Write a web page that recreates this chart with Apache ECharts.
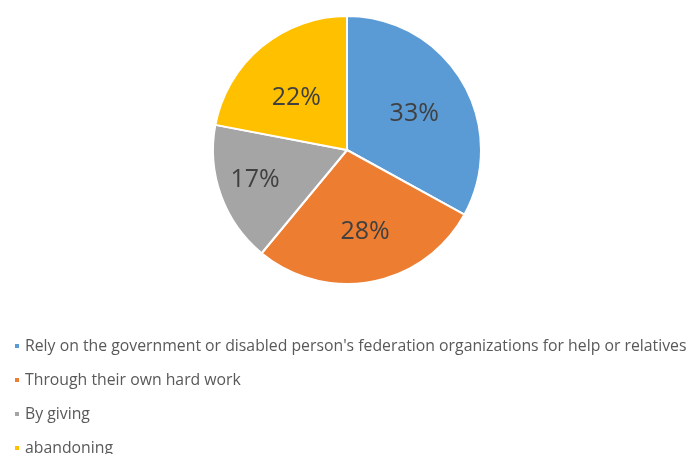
<!DOCTYPE html>
<html>
<head>
<meta charset="utf-8">
<script src="https://cdn.jsdelivr.net/npm/echarts@6/dist/echarts.min.js"></script>
<style>
  html, body { margin: 0; padding: 0; background: #fff; }
  #chart { width: 691px; height: 454px; }
</style>
</head>
<body>
<div id="chart"></div>
<script>
// Ways of getting by
const categories = [
  "Rely on the government or disabled person's federation organizations for help or relatives",
  "Through their own hard work",
  "By giving",
  "abandoning"
];
const shares = [33, 28, 17, 22];
const colors = ['#5B9BD5', '#ED7D31', '#A5A5A5', '#FFC000'];

// nudges of each percentage label away from the mid-radius spot
const labelNudge = [[7, 0], [5, 13], [-26, 6], [-6, 2]];

const chart = echarts.init(document.getElementById('chart'));
chart.setOption({
  animation: false,
  color: colors,
  legend: {
    orient: 'vertical',
    left: 8,
    top: 333,
    height: 140,
    icon: 'rect',
    itemWidth: 6,
    itemHeight: 6,
    itemGap: 18,
    textStyle: {
      color: '#595959', fontSize: 15.8, lineHeight: 16,
      fontFamily: 'Open Sans', padding: [0, 0, 0, 0]
    },
    data: categories
  },
  series: [{
    type: 'pie',
    center: [347, 150],
    radius: [0, 134],
    startAngle: 90,
    clockwise: true,
    itemStyle: { borderColor: '#fff', borderWidth: 2 },
    label: {
      show: true,
      position: 'inside',
      formatter: '{c}%',
      color: '#404040',
      fontSize: 25,
      fontFamily: 'Open Sans'
    },
    labelLine: { show: false },
    data: categories.map((name, i) => ({
      name,
      value: shares[i],
      label: { offset: labelNudge[i] }
    }))
  }]
});
</script>
</body>
</html>
